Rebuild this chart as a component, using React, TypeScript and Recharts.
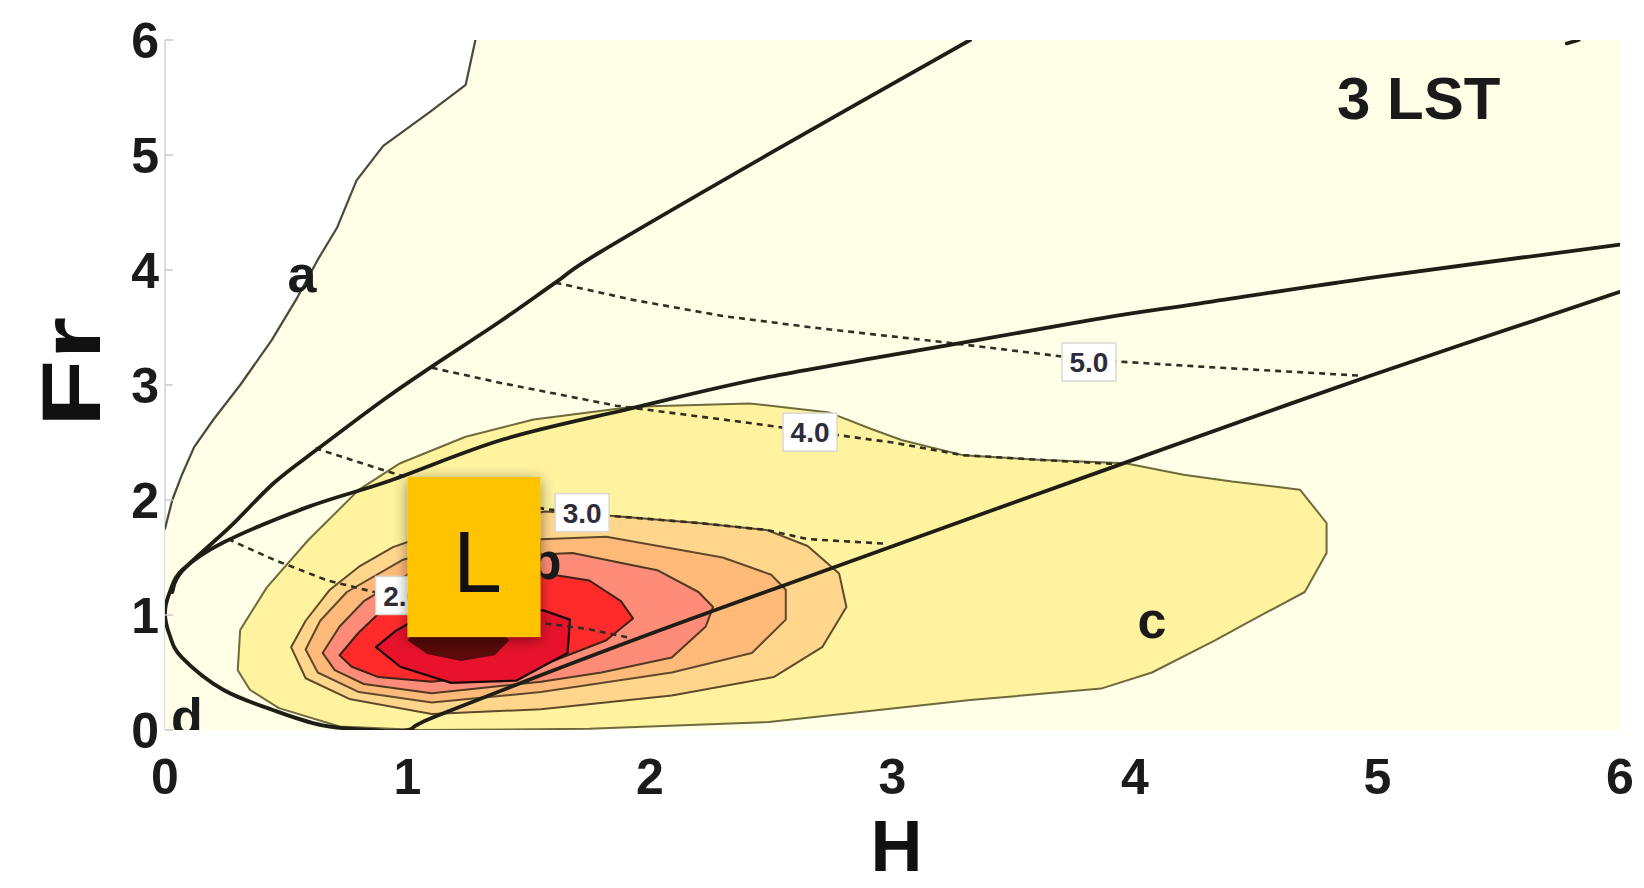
import React from "react"
import { ScatterChart, Scatter, XAxis, YAxis, Label } from "recharts"

type Pt = { x: number; y: number; label?: string }
const pts = (arr: number[][]): Pt[] => arr.map(([x, y]) => ({ x, y }))

const xTicks = [0, 1, 2, 3, 4, 5, 6]
const yTicks = [0, 1, 2, 3, 4, 5, 6]

// left boundary "a"
const curveA = pts([
  [0.0, 1.75], [0.03, 2.0], [0.07, 2.22], [0.12, 2.46], [0.2, 2.7], [0.31, 3.0], [0.44, 3.39],
  [0.54, 3.74], [0.63, 4.09], [0.71, 4.37], [0.79, 4.78], [0.9, 5.08], [1.09, 5.37], [1.24, 5.61], [1.28, 6.0],
])
const plotCorners = pts([[6, 6], [6, 0], [0, 0]])

const line1 = pts([
  [0.03, 1.2], [0.07, 1.38], [0.27, 1.77], [0.45, 2.15], [0.64, 2.46], [0.9, 2.87], [1.1, 3.16],
  [1.38, 3.55], [1.61, 3.89], [1.79, 4.15], [2.5, 5.02], [3.32, 6.0],
])

// U shaped curve "d"
const curveD = pts([
  [6.0, 4.22], [5.0, 3.94], [4.27, 3.71], [3.86, 3.58], [3.32, 3.38], [2.49, 3.07], [1.93, 2.8],
  [1.4, 2.53], [0.93, 2.17], [0.59, 1.94], [0.24, 1.63], [0.07, 1.39], [0.02, 1.2], [0.0, 1.02],
  [0.02, 0.82], [0.07, 0.63], [0.24, 0.35], [0.45, 0.17], [0.65, 0.04], [0.85, 0.0], [1.0, 0.0],
  [1.13, 0.13], [1.93, 0.78], [2.74, 1.4], [3.94, 2.31], [4.97, 3.08], [6.0, 3.81],
])
const topMark = pts([[5.78, 5.97], [5.83, 6.0]])

const dashed2 = pts([[0.26, 1.66], [0.45, 1.48], [0.67, 1.3], [0.92, 1.17], [1.3, 1.0], [1.74, 0.88], [1.92, 0.8]])
const dashed3 = pts([
  [0.62, 2.45], [0.9, 2.26], [1.2, 2.07], [1.57, 1.92], [1.72, 1.89], [1.85, 1.86], [2.2, 1.8],
  [2.48, 1.74], [2.65, 1.66], [2.97, 1.62],
])
const dashed4 = pts([
  [1.1, 3.15], [1.38, 3.02], [1.86, 2.82], [2.41, 2.67], [2.65, 2.6], [3.0, 2.5], [3.29, 2.39],
  [3.6, 2.35], [3.94, 2.31],
])
const dashed5 = pts([
  [1.61, 3.89], [1.93, 3.74], [2.3, 3.6], [2.67, 3.5], [3.22, 3.37], [3.81, 3.22], [4.27, 3.16], [4.94, 3.08],
])

const level1 = pts([
  [0.3, 0.52], [0.31, 0.87], [0.42, 1.24], [0.59, 1.65], [0.8, 2.09], [0.97, 2.32], [1.24, 2.55],
  [1.52, 2.7], [1.93, 2.81], [2.41, 2.84], [2.74, 2.76], [2.91, 2.62], [3.04, 2.52], [3.29, 2.39],
  [3.6, 2.35], [3.96, 2.32], [4.2, 2.22], [4.4, 2.16], [4.68, 2.09], [4.79, 1.8], [4.79, 1.54],
  [4.7, 1.2], [4.46, 0.93], [4.33, 0.78], [4.07, 0.5], [3.86, 0.36], [3.32, 0.26], [2.49, 0.07],
  [1.75, 0.01], [1.05, 0.0], [0.72, 0.03], [0.47, 0.19], [0.35, 0.35],
])
const level2 = pts([
  [0.52, 0.72], [0.58, 0.95], [0.68, 1.22], [0.8, 1.42], [0.94, 1.59], [1.2, 1.78], [1.57, 1.9],
  [1.85, 1.86], [2.2, 1.8], [2.48, 1.74], [2.65, 1.6], [2.78, 1.36], [2.81, 1.07], [2.71, 0.72],
  [2.51, 0.46], [2.09, 0.3], [1.55, 0.18], [1.1, 0.14], [0.76, 0.27], [0.58, 0.45],
])
const level3 = pts([
  [0.58, 0.7], [0.64, 0.95], [0.75, 1.2], [0.98, 1.48], [1.3, 1.64], [1.82, 1.68], [2.3, 1.5],
  [2.5, 1.35], [2.56, 1.22], [2.56, 0.96], [2.42, 0.67], [2.09, 0.5], [1.55, 0.33], [1.1, 0.24],
  [0.8, 0.33], [0.63, 0.5],
])
const level4 = pts([
  [0.65, 0.67], [0.72, 0.9], [0.82, 1.12], [1.0, 1.35], [1.3, 1.5], [1.68, 1.54], [2.03, 1.39],
  [2.2, 1.2], [2.26, 1.07], [2.23, 0.9], [2.09, 0.63], [1.8, 0.5], [1.55, 0.42], [1.1, 0.32],
  [0.82, 0.4], [0.7, 0.52],
])
const level5 = pts([
  [0.72, 0.65], [0.8, 0.85], [0.9, 1.05], [1.05, 1.25], [1.35, 1.35], [1.6, 1.35], [1.75, 1.3],
  [1.88, 1.12], [1.93, 0.97], [1.82, 0.78], [1.6, 0.6], [1.35, 0.48], [1.1, 0.42], [0.88, 0.46], [0.77, 0.55],
])
const level6 = pts([
  [0.87, 0.72], [0.95, 0.86], [1.05, 0.98], [1.3, 1.06], [1.56, 1.04], [1.67, 0.96], [1.66, 0.67],
  [1.45, 0.43], [1.18, 0.41], [0.97, 0.55],
])
const level7 = pts([
  [1.0, 0.78], [1.08, 0.66], [1.22, 0.6], [1.36, 0.65], [1.42, 0.78], [1.36, 0.92], [1.2, 0.98], [1.05, 0.92],
])

const valueLabels: Pt[] = [
  { x: 3.81, y: 3.2, label: "5.0" },
  { x: 2.66, y: 2.59, label: "4.0" },
  { x: 1.72, y: 1.89, label: "3.0" },
  { x: 0.98, y: 1.17, label: "2.0" },
]
const letterLabels: Pt[] = [
  { x: 0.565, y: 3.93, label: "a" },
  { x: 4.07, y: 0.92, label: "c" },
  { x: 0.09, y: 0.12, label: "d" },
  { x: 1.57, y: 1.48, label: "b" },
]
const panelTitle: Pt[] = [{ x: 5.17, y: 5.5, label: "3 LST" }]
const markerBox: Pt[] = [{ x: 1.272, y: 1.504, label: "L" }]

const FONT = "'Liberation Sans', Arial, sans-serif"

function linearPath(p: { x: number; y: number }[], close: boolean) {
  const d = p.map((q, i) => `${i ? "L" : "M"}${q.x},${q.y}`).join(" ")
  return close ? d + " Z" : d
}

function smoothPath(p: { x: number; y: number }[]) {
  let d = `M${p[0].x},${p[0].y}`
  for (let i = 0; i < p.length - 1; i++) {
    const p0 = p[i - 1] || p[i]
    const p1 = p[i]
    const p2 = p[i + 1]
    const p3 = p[i + 2] || p2
    const c1x = p1.x + (p2.x - p0.x) / 6
    const c1y = p1.y + (p2.y - p0.y) / 6
    const c2x = p2.x - (p3.x - p1.x) / 6
    const c2y = p2.y - (p3.y - p1.y) / 6
    d += ` C${c1x},${c1y} ${c2x},${c2y} ${p2.x},${p2.y}`
  }
  return d
}

const area = (fill: string, stroke: string, width: number) => (props: any) => {
  const p = props.points || []
  if (!p.length) return <g />
  return <path d={linearPath(p, true)} fill={fill} stroke={stroke} strokeWidth={width} strokeLinejoin="round" />
}

const curve = (stroke: string, width: number, smooth: boolean, dash?: string) => (props: any) => {
  const p = props.points || []
  if (!p.length) return <g />
  return (
    <path
      d={smooth ? smoothPath(p) : linearPath(p, false)}
      fill="none"
      stroke={stroke}
      strokeWidth={width}
      strokeDasharray={dash}
      strokeLinejoin="round"
      strokeLinecap={dash ? "butt" : "round"}
    />
  )
}

const noDot = () => <g />

const ValueBox = (props: any) => {
  const { cx, cy, payload } = props
  return (
    <g>
      <rect x={cx - 27} y={cy - 19} width={54} height={38} fill="#ffffff" stroke="#d9d9d2" strokeWidth={1.5} />
      <text x={cx} y={cy} dy="0.36em" textAnchor="middle" fontFamily={FONT} fontWeight="bold" fontSize={28} fill="#2c2c3a">
        {payload.label}
      </text>
    </g>
  )
}

const Letter = (props: any) => {
  const { cx, cy, payload } = props
  const tall = payload.label === "b" || payload.label === "d"
  return (
    <text x={cx} y={cy} dy={tall ? "0.36em" : "0.27em"} textAnchor="middle" fontFamily={FONT} fontWeight="bold" fontSize={52} fill="#1a1a1a">
      {payload.label}
    </text>
  )
}

const Title = (props: any) => {
  const { cx, cy, payload } = props
  return (
    <text x={cx} y={cy} dy="0.36em" textAnchor="middle" fontFamily={FONT} fontWeight="bold" fontSize={60} fill="#1a1a1a">
      {payload.label}
    </text>
  )
}

const Marker = (props: any) => {
  const { cx, cy, payload } = props
  return (
    <g>
      <defs>
        <filter id="boxShadow" x="-30%" y="-30%" width="160%" height="160%">
          <feDropShadow dx="0" dy="3" stdDeviation="7" floodColor="#000" floodOpacity="0.45" />
        </filter>
      </defs>
      <rect x={cx - 66} y={cy - 80} width={133} height={160} fill="#FFC300" filter="url(#boxShadow)" />
      <text x={cx + 4} y={cy + 35} textAnchor="middle" fontFamily={FONT} fontSize={88} fill="#111">
        {payload.label}
      </text>
    </g>
  )
}

const YTick = (props: any) => {
  const { x, y, payload } = props
  return (
    <g>
      <line x1={x + 6} x2={x + 14} y1={y} y2={y} stroke="#c9c9c9" strokeWidth={1.5} />
      <text x={x} y={y} dy="0.36em" textAnchor="end" fontFamily={FONT} fontWeight="bold" fontSize={50} fill="#1b1b1b">
        {payload.value}
      </text>
    </g>
  )
}

const XTick = (props: any) => {
  const { x, y, payload } = props
  return (
    <text x={x} y={y} dy="0.71em" textAnchor="middle" fontFamily={FONT} fontWeight="bold" fontSize={50} fill="#1b1b1b">
      {payload.value}
    </text>
  )
}

export default function App() {
  const creamRegion = [...curveA, ...plotCorners]
  return (
    <div style={{ position: "absolute", left: 0, top: 0, width: 1644, height: 888, background: "#fff" }}>
      <ScatterChart width={1644} height={888} margin={{ top: 40, right: 24, bottom: 0, left: 0 }}>
        <XAxis
          type="number"
          dataKey="x"
          domain={[0, 6]}
          ticks={xTicks}
          allowDataOverflow
          height={158}
          tickSize={0}
          tickMargin={28}
          axisLine={false}
          tick={<XTick />}
        >
          <Label
            content={(p: any) => (
              <text x={p.viewBox.x + p.viewBox.width / 2 + 4} y={p.viewBox.y + 141} textAnchor="middle" fontFamily={FONT} fontWeight="bold" fontSize={72} fill="#111">
                H
              </text>
            )}
          />
        </XAxis>
        <YAxis
          type="number"
          dataKey="y"
          domain={[0, 6]}
          ticks={yTicks}
          allowDataOverflow
          width={165}
          tickSize={0}
          tickMargin={6}
          axisLine={{ stroke: "#d2d2d2", strokeWidth: 1.5 }}
          tick={<YTick />}
        >
          <Label
            content={(p: any) => (
              <text
                x={100}
                y={p.viewBox.y + p.viewBox.height / 2 - 13}
                transform={`rotate(-90, 100, ${p.viewBox.y + p.viewBox.height / 2 - 13})`}
                textAnchor="middle"
                fontFamily={FONT}
                fontWeight="bold"
                fontSize={84}
                textLength={110}
                lengthAdjust="spacingAndGlyphs"
                fill="#111"
              >
                Fr
              </text>
            )}
          />
        </YAxis>

        <Scatter data={creamRegion} shape={noDot} line={area("#FFFEE6", "none", 0)} isAnimationActive={false} />
        <Scatter data={level1} shape={noDot} line={area("#FFF3A0", "#6e6a3c", 2)} isAnimationActive={false} />
        <Scatter data={level2} shape={noDot} line={area("#FFD68C", "#5e4a2a", 2)} isAnimationActive={false} />
        <Scatter data={level3} shape={noDot} line={area("#FFBA7A", "#5e4a2a", 2)} isAnimationActive={false} />
        <Scatter data={level4} shape={noDot} line={area("#FF8C78", "#4e3a22", 2)} isAnimationActive={false} />
        <Scatter data={level5} shape={noDot} line={area("#FF2B2B", "#3a2218", 2)} isAnimationActive={false} />
        <Scatter data={level6} shape={noDot} line={area("#E8122C", "#1a0a0a", 2.2)} isAnimationActive={false} />
        <Scatter data={level7} shape={noDot} line={area("#5A0A0A", "none", 0)} isAnimationActive={false} />

        <Scatter data={curveA} shape={noDot} line={curve("#4a4a38", 2.2, false)} isAnimationActive={false} />
        <Scatter data={dashed2} shape={noDot} line={curve("#2e2e24", 2.6, false, "6 5")} isAnimationActive={false} />
        <Scatter data={dashed3} shape={noDot} line={curve("#2e2e24", 2.6, false, "6 5")} isAnimationActive={false} />
        <Scatter data={dashed4} shape={noDot} line={curve("#2e2e24", 2.6, false, "6 5")} isAnimationActive={false} />
        <Scatter data={dashed5} shape={noDot} line={curve("#2e2e24", 2.6, false, "6 5")} isAnimationActive={false} />
        <Scatter data={line1} shape={noDot} line={curve("#1e1e14", 3.8, true)} isAnimationActive={false} />
        <Scatter data={curveD} shape={noDot} line={curve("#1e1e14", 3.8, true)} isAnimationActive={false} />
        <Scatter data={topMark} shape={noDot} line={curve("#1e1e14", 3.6, false)} isAnimationActive={false} />

        <Scatter data={valueLabels} shape={<ValueBox />} isAnimationActive={false} />
        <Scatter data={letterLabels} shape={<Letter />} isAnimationActive={false} />
        <Scatter data={panelTitle} shape={<Title />} isAnimationActive={false} />
        <Scatter data={markerBox} shape={<Marker />} isAnimationActive={false} />
      </ScatterChart>
    </div>
  )
}
